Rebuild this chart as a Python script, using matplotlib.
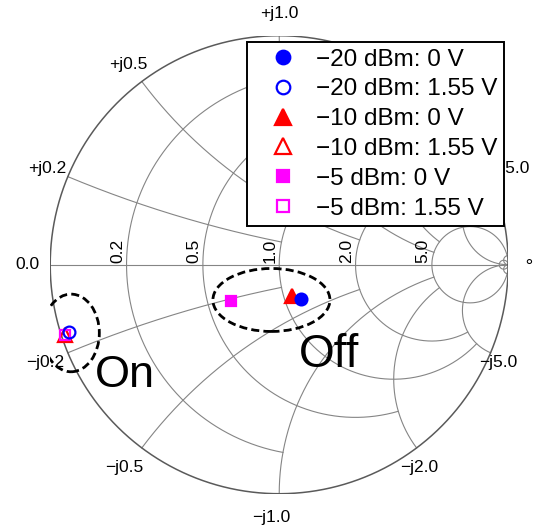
import numpy as np
import matplotlib
matplotlib.use('Agg')
import matplotlib.pyplot as plt
from matplotlib.patches import Ellipse

plt.rcParams['font.family'] = ['Liberation Sans', 'DejaVu Sans']

# Smith chart grid: tick values and how far each line is drawn
r_ticks = [0.2, 0.5, 1.0, 2.0, 5.0, 50.0]
r_reach = [1.0, 2.0, 5.0, 5.0, np.inf, np.inf]   # largest |x| on each resistance circle
x_ticks = [0.2, 0.5, 1.0, 2.0, 5.0, 50.0]
x_reach = [1.0, 2.0, 5.0, 5.0, np.inf, np.inf]   # largest r on each reactance arc
label_ticks = [0.2, 0.5, 1.0, 2.0, 5.0]

# measured S11 (reflection coefficient) per drive level and bias
labels = ['\u221220 dBm: 0 V', '\u221220 dBm: 1.55 V',
          '\u221210 dBm: 0 V', '\u221210 dBm: 1.55 V',
          '\u22125 dBm: 0 V', '\u22125 dBm: 1.55 V']
s11_re = [0.095, -0.917, 0.056, -0.935, -0.210, -0.935]
s11_im = [-0.151, -0.293, -0.137, -0.307, -0.157, -0.307]
colors = ['blue', 'blue', 'red', 'red', 'magenta', 'magenta']
markers = ['o', 'o', '^', '^', 's', 's']
filled = [True, False, True, False, True, False]
sizes = [8.5, 8.5, 10.5, 10.5, 7.5, 7.5]


def gamma(z):
    return (z - 1) / (z + 1)


fig = plt.figure(figsize=(5.37, 5.29), dpi=100)
ax = fig.add_axes([0.0935, 0.0667, 0.8529, 0.8658])
ax.set_xlim(-1, 1)
ax.set_ylim(-1, 1)
ax.axis('off')

grid_kw = dict(color='#858585', lw=0.8, zorder=1)

# resistance circles
for r, xm in zip(r_ticks, r_reach):
    t = np.linspace(-np.arctan(xm), np.arctan(xm), 1200)
    g = gamma(r + 1j * np.tan(t))
    ax.plot(g.real, g.imag, **grid_kw)

# reactance arcs (both signs)
for x, rm in zip(x_ticks, x_reach):
    t = np.linspace(0, min(np.arctan(rm), np.pi / 2 - 1e-6), 1200)
    for s in (1, -1):
        g = gamma(np.tan(t) + 1j * s * x)
        ax.plot(g.real, g.imag, **grid_kw)

# real axis and unit circle
ax.plot([-1, 1], [0, 0], **grid_kw)
th = np.linspace(0, 2 * np.pi, 800)
ax.plot(np.cos(th), np.sin(th), color='#5a5a5a', lw=1.1, zorder=2)

# tick labels
lab_fs = 12.5
for v in label_ticks:
    gr = gamma(v)
    ax.annotate(f'{v:.1f}', (gr.real, 0), xytext=(-1.5, 1.5), textcoords='offset pixels',
                rotation=90, ha='right', va='bottom', fontsize=lab_fs)
    g = gamma(1j * v) * 1.095
    ax.text(g.real, g.imag, f'+j{v:.1f}', ha='center', va='center',
            fontsize=lab_fs, clip_on=False)
    # the negative labels sit a little left of their arcs
    g = gamma(-1j * v) * 1.095
    ax.annotate(f'\u2212j{v:.1f}', (g.real, g.imag),
                xytext=(-7.5 - 5.8 * g.real / 1.095, -1.8), textcoords='offset pixels',
                ha='center', va='center', fontsize=lab_fs, annotation_clip=False)
ax.text(-1.045, 0, '0.0', ha='right', va='center', fontsize=lab_fs)
ax.text(1.09, 0.01, '\u2218', ha='center', va='center', fontsize=lab_fs,
        family=['DejaVu Sans'])

# data points
for re, im, c, m, f, ms, lab in zip(s11_re, s11_im, colors, markers, filled, sizes, labels):
    ax.plot(re, im, linestyle='none', marker=m, ms=ms, mew=1.6, mec=c,
            mfc=c if f else 'none', label=lab, zorder=5 if m != 'o' else 6)

# state groupings
ell_kw = dict(fill=False, ec='black', lw=2.0, ls=(0, (2.9, 1.5)), zorder=4)
ax.add_patch(Ellipse((-0.909, -0.298), 0.247, 0.339, **ell_kw))
ax.add_patch(Ellipse((-0.034, -0.154), 0.511, 0.275, **ell_kw))
ax.text(-0.804, -0.534, 'On', fontsize=32.5, ha='left', va='baseline', zorder=7)
ax.text(0.088, -0.447, 'Off', fontsize=33, ha='left', va='baseline', zorder=7)

leg = ax.legend(loc='upper right', bbox_to_anchor=(504 / 537, 1 - 42 / 529),
                bbox_transform=fig.transFigure, fontsize=17.5, frameon=True,
                fancybox=False, framealpha=1, edgecolor='black', markerscale=1.15,
                handlelength=2.43, handletextpad=0.16, labelspacing=0.32,
                borderpad=0.27, borderaxespad=0)
leg.get_frame().set_linewidth(1.4)
leg.set_zorder(10)

plt.savefig('out.png', dpi=100)
